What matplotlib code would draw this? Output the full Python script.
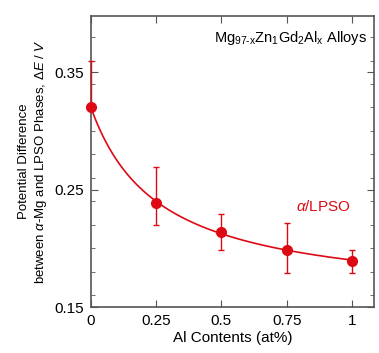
import numpy as np
import matplotlib.pyplot as plt
from matplotlib.ticker import MultipleLocator

plt.rcParams['font.family'] = ['Liberation Sans', 'DejaVu Sans']
plt.rcParams['mathtext.fontset'] = 'custom'
plt.rcParams['mathtext.rm'] = 'Liberation Sans'
plt.rcParams['mathtext.it'] = 'Liberation Sans:italic'

al = np.array([0, 0.25, 0.5, 0.75, 1.0])
dE = np.array([0.32, 0.239, 0.214, 0.199, 0.189])
err_lo = np.array([0.0, 0.019, 0.015, 0.020, 0.010])
err_hi = np.array([0.04, 0.030, 0.015, 0.023, 0.010])

red = '#dd0a14'
gray = '#555555'

# smooth trend line: a + b/(1 + x/c), c by grid search, a and b by least squares
best = None
for c in np.linspace(0.02, 2, 400):
    A = np.column_stack([np.ones_like(al), 1 / (1 + al / c)])
    coef, res, _, _ = np.linalg.lstsq(A, dE, rcond=None)
    r = np.sum((A @ coef - dE) ** 2)
    if best is None or r < best[0]:
        best = (r, c, coef)
_, c, (a, b) = best
xs = np.linspace(0, 1, 200)
ys = a + b / (1 + xs / c)

fig, ax = plt.subplots(figsize=(3.79, 3.53), dpi=100)
fig.subplots_adjust(left=0.24, right=0.987, bottom=0.13, top=0.955)

ax.plot(xs, ys, color=red, lw=1.2)
ax.errorbar(al, dE, yerr=[err_lo, err_hi], fmt='o', color=red, ms=7,
            elinewidth=1.0, capsize=2.2, capthick=1.0, clip_on=False, zorder=3)

ax.set_xlim(0, 1.085)
ax.set_ylim(0.15, 0.398)
ax.set_xticks([0, 0.25, 0.5, 0.75, 1])
ax.set_xticklabels(['0', '0.25', '0.5', '0.75', '1'])
ax.set_yticks([0.15, 0.25, 0.35])
ax.yaxis.set_minor_locator(MultipleLocator(0.02))
ax.tick_params(which='both', direction='in', top=True, right=True,
               color=gray, labelsize=11, pad=5)
ax.tick_params(which='major', length=5)
ax.tick_params(which='minor', length=3)
for s in ax.spines.values():
    s.set_color(gray)
    s.set_linewidth(1.2)

ax.set_xlabel('Al Contents (at%)', fontsize=11, labelpad=2)
ax.set_ylabel('Potential Difference\nbetween $\\alpha$-Mg and LPSO Phases, $\\mathit{\\Delta E\\ /\\ V}$',
              fontsize=9.5, labelpad=4, linespacing=1.3)

ax.text(0.975, 0.925, 'Mg$_{\\text{97-x}}$Zn$_{\\mathrm{1}}$Gd$_{\\mathrm{2}}$Al$_{\\mathrm{x}}$ Alloys',
        transform=ax.transAxes, ha='right', va='center', fontsize=10.5)
ax.text(0.89, 0.236, '$\\alpha$/LPSO', color=red, ha='center', va='center', fontsize=11)

fig.savefig('out.png')
